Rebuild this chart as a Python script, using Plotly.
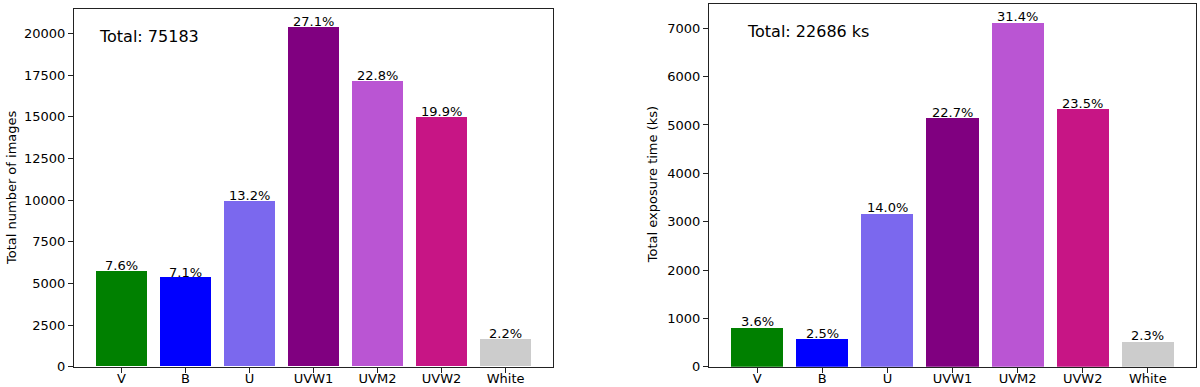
"""Swift/UVOT filter statistics: number of images and exposure time per filter."""

import plotly.graph_objects as go

filters = ["V", "B", "U", "UVW1", "UVM2", "UVW2", "White"]
bar_colors = ["#008000", "#0000ff", "#7b68ee", "#800080", "#ba55d3", "#c71585", "#cccccc"]

n_images = [5740, 5340, 9930, 20390, 17150, 14970, 1663]
exposure_ks = [815, 570, 3175, 5150, 7124, 5330, 522]

left_ticks = [0, 2500, 5000, 7500, 10000, 12500, 15000, 17500, 20000]
right_ticks = [0, 1000, 2000, 3000, 4000, 5000, 6000, 7000]

W, H = 1200, 387
FONT = "DejaVu Sans"


def px(x):
    return x / W


def py(y):
    return 1 - y / H


fig = go.Figure()

panels = [
    dict(vals=n_images, xa="x", ya="y", ticks=left_ticks,
         xdom=[px(74), px(553)], ydom=[py(366.7), py(9.3)],
         yrange=[0, max(n_images) * 1.0525],
         ytitle="Total number of images", ytitle_x=11,
         total=f"Total: {sum(n_images)}", total_xy=(97, 36.5)),
    dict(vals=exposure_ks, xa="x2", ya="y2", ticks=right_ticks,
         xdom=[px(709), px(1196)], ydom=[py(366.7), py(3.7)],
         yrange=[0, max(exposure_ks) * 1.054],
         ytitle="Total exposure time (ks)", ytitle_x=652,
         total=f"Total: {sum(exposure_ks)} ks", total_xy=(745, 31.5)),
]

annotations = []
for i, p in enumerate(panels):
    fig.add_trace(go.Bar(
        x=filters, y=p["vals"], width=0.8,
        marker=dict(color=bar_colors, line=dict(width=0)),
        xaxis=p["xa"], yaxis=p["ya"], showlegend=False,
        hoverinfo="x+y",
    ))
    total = sum(p["vals"])
    for f, v in zip(filters, p["vals"]):
        annotations.append(dict(
            x=f, y=v, xref=p["xa"], yref=p["ya"],
            text=f"{100 * v / total:.1f}%", showarrow=False,
            yanchor="bottom", yshift=-4,
            font=dict(family=FONT, size=13, color="black"),
        ))
    annotations.append(dict(
        x=px(p["ytitle_x"]), y=(p["ydom"][0] + p["ydom"][1]) / 2,
        xref="paper", yref="paper", text=p["ytitle"], textangle=-90,
        showarrow=False, xanchor="center", yanchor="middle",
        font=dict(family=FONT, size=13, color="black"),
    ))
    annotations.append(dict(
        x=px(p["total_xy"][0]), y=py(p["total_xy"][1]),
        xref="paper", yref="paper", text=p["total"],
        showarrow=False, xanchor="left", yanchor="middle",
        font=dict(family=FONT, size=16, color="black"),
    ))

    axis_common = dict(showline=True, linecolor="#222", linewidth=1, mirror=True,
                       ticks="outside", ticklen=5, tickwidth=1, tickcolor="#222",
                       showgrid=False, zeroline=False, automargin=False,
                       tickfont=dict(family=FONT, size=13, color="black"))
    suffix = "" if i == 0 else "2"
    fig.update_layout(**{
        f"xaxis{suffix}": dict(domain=p["xdom"], anchor=p["ya"],
                               range=[-0.74, 6.74], type="category",
                               ticklabelstandoff=-5, **axis_common),
        f"yaxis{suffix}": dict(domain=p["ydom"], anchor=p["xa"],
                               range=p["yrange"], tickvals=p["ticks"],
                               tickformat="d", **axis_common),
    })

fig.update_layout(
    width=W, height=H,
    margin=dict(l=0, r=0, t=0, b=0, autoexpand=False),
    paper_bgcolor="white", plot_bgcolor="white",
    font=dict(family=FONT, size=13, color="black"),
    annotations=annotations,
    bargap=0,
)

# the page body has a default 8px margin; drop it so the figure fills the window
fig.write_html("out.html",
               config={"displayModeBar": False},
               post_script="document.body.style.margin='0';document.body.style.overflow='hidden';")
